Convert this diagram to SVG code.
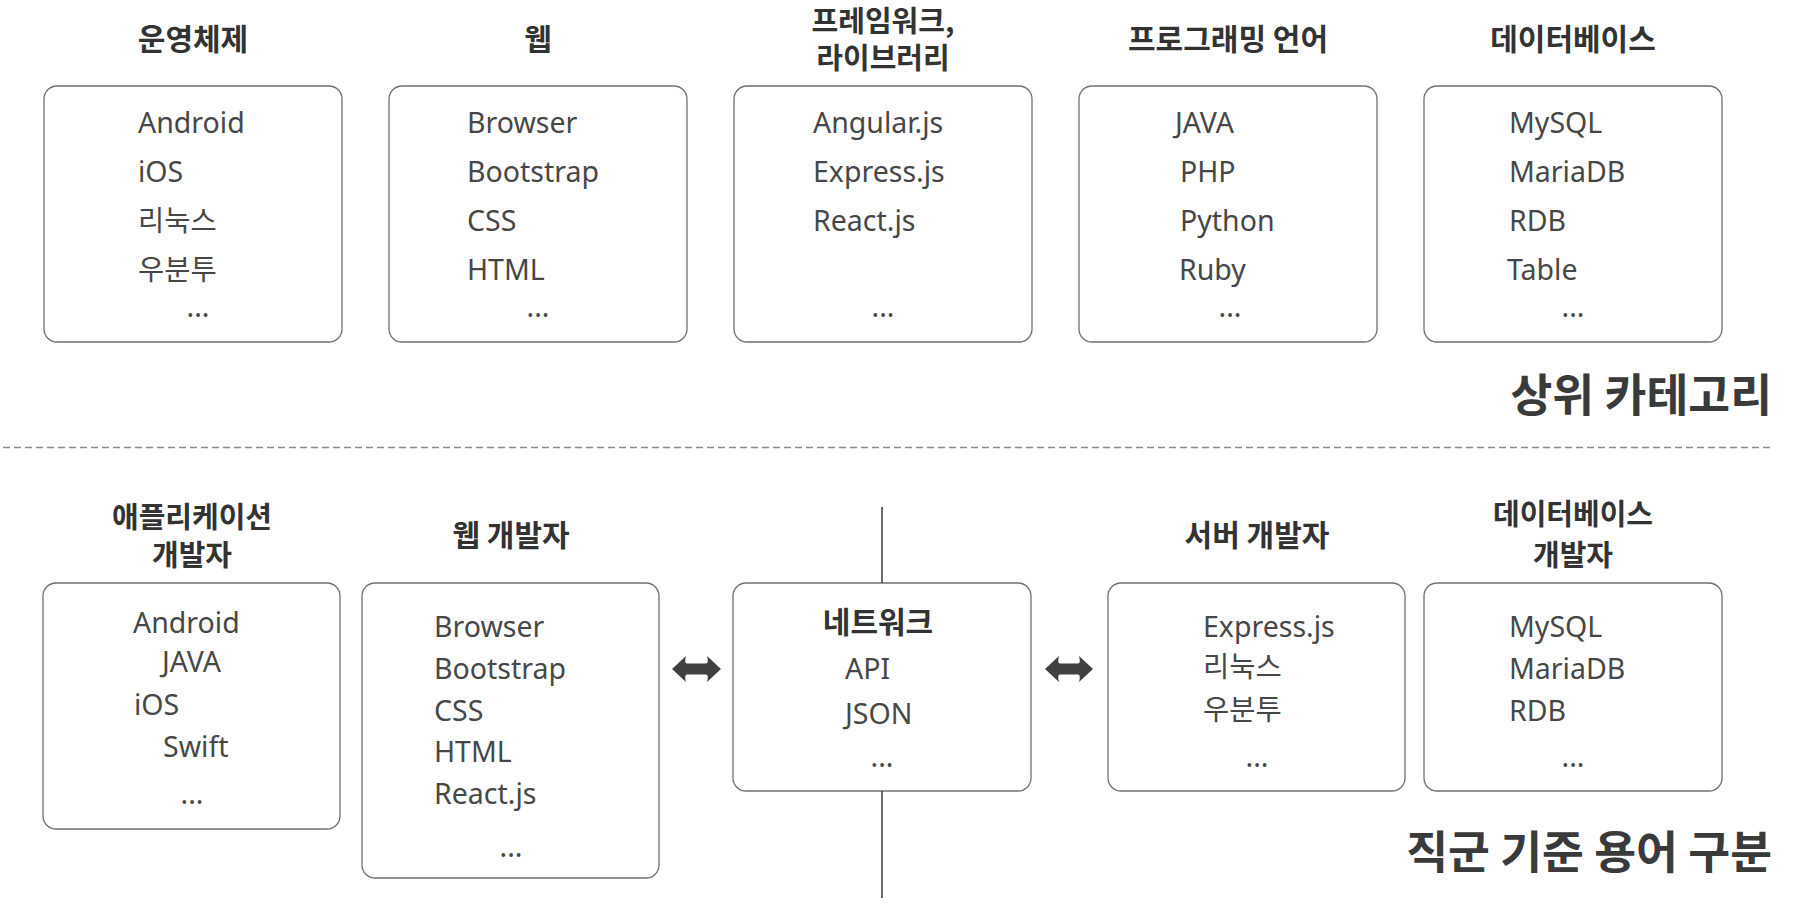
<svg xmlns="http://www.w3.org/2000/svg" width="1798" height="910" viewBox="0 0 1798 910">
<style>
.box{fill:#fff;stroke:#707070;stroke-width:1.3}
.ttl{font-family:"Noto Sans CJK KR","Noto Sans",sans-serif;font-weight:700;font-size:30px;fill:#333;text-anchor:middle}
.ttl2{font-family:"Noto Sans CJK KR","Noto Sans",sans-serif;font-weight:700;font-size:29px;fill:#333;text-anchor:middle}
.big{font-family:"Noto Sans CJK KR","Noto Sans",sans-serif;font-weight:700;font-size:45.5px;fill:#3a3a3a;text-anchor:end}
.it{font-family:"Noto Sans","Noto Sans CJK KR",sans-serif;font-weight:400;font-size:28.5px;fill:#474747}
.dots{font-family:"Noto Sans",sans-serif;font-weight:400;font-size:28.5px;fill:#474747;text-anchor:middle}
.sep{stroke:#8a8a8a;stroke-width:1.4;stroke-dasharray:7 4;fill:none}
.vline{stroke:#444;stroke-width:1.6;fill:none}
.arr{fill:#404040}
</style>
<rect width="1798" height="910" fill="#fff"/>

<g id="top-labels">
<text class="big" x="1772" y="412">상위 카테고리</text>
</g>

<g id="node-os">
<text class="ttl" x="193" y="50">운영체제</text>
<rect class="box" x="44" y="86" width="298" height="256" rx="13"/>
<text class="it" x="138" y="133">Android</text>
<text class="it" x="138" y="182">iOS</text>
<text class="it" x="138" y="231">리눅스</text>
<text class="it" x="138" y="280">우분투</text>
<text class="dots" x="198" y="317">...</text>
</g>

<g id="node-web">
<text class="ttl" x="538" y="50">웹</text>
<rect class="box" x="389" y="86" width="298" height="256" rx="13"/>
<text class="it" x="467" y="133">Browser</text>
<text class="it" x="467" y="182">Bootstrap</text>
<text class="it" x="467" y="231">CSS</text>
<text class="it" x="467" y="280">HTML</text>
<text class="dots" x="538" y="317">...</text>
</g>

<g id="node-framework">
<text class="ttl2" x="883" y="32">프레임워크,</text>
<text class="ttl2" x="883" y="69">라이브러리</text>
<rect class="box" x="734" y="86" width="298" height="256" rx="13"/>
<text class="it" x="813" y="133">Angular.js</text>
<text class="it" x="813" y="182">Express.js</text>
<text class="it" x="813" y="231">React.js</text>
<text class="dots" x="883" y="317">...</text>
</g>

<g id="node-lang">
<text class="ttl" x="1228" y="50">프로그래밍 언어</text>
<rect class="box" x="1079" y="86" width="298" height="256" rx="13"/>
<text class="it" x="1175" y="133">JAVA</text>
<text class="it" x="1180" y="182">PHP</text>
<text class="it" x="1180" y="231">Python</text>
<text class="it" x="1179" y="280">Ruby</text>
<text class="dots" x="1230" y="317">...</text>
</g>

<g id="node-db">
<text class="ttl" x="1573" y="50">데이터베이스</text>
<rect class="box" x="1424" y="86" width="298" height="256" rx="13"/>
<text class="it" x="1509" y="133">MySQL</text>
<text class="it" x="1509" y="182">MariaDB</text>
<text class="it" x="1509" y="231">RDB</text>
<text class="it" x="1507" y="280">Table</text>
<text class="dots" x="1573" y="317">...</text>
</g>

<g id="separator">
<line class="sep" x1="3" y1="447.5" x2="1774" y2="447.5"/>
</g>

<g id="bottom-labels">
<text class="big" x="1772" y="869">직군 기준 용어 구분</text>
</g>

<g id="node-app-dev">
<text class="ttl2" x="192" y="528">애플리케이션</text>
<text class="ttl2" x="192" y="566">개발자</text>
<rect class="box" x="43" y="583" width="297" height="246" rx="13"/>
<text class="it" x="133" y="633">Android</text>
<text class="it" x="162" y="672">JAVA</text>
<text class="it" x="134" y="715">iOS</text>
<text class="it" x="163" y="757">Swift</text>
<text class="dots" x="192" y="804">...</text>
</g>

<g id="node-web-dev">
<text class="ttl" x="511" y="546">웹 개발자</text>
<rect class="box" x="362" y="583" width="297" height="295" rx="13"/>
<text class="it" x="434" y="637">Browser</text>
<text class="it" x="434" y="679">Bootstrap</text>
<text class="it" x="434" y="721">CSS</text>
<text class="it" x="434" y="762">HTML</text>
<text class="it" x="434" y="804">React.js</text>
<text class="dots" x="511" y="857">...</text>
</g>

<g id="node-network">
<rect class="box" x="733" y="583" width="298" height="208" rx="13"/>
<text class="ttl" x="878" y="633">네트워크</text>
<text class="it" x="845" y="679">API</text>
<text class="it" x="845" y="724">JSON</text>
<text class="dots" x="882" y="767">...</text>
</g>

<g id="node-server-dev">
<text class="ttl" x="1257" y="546">서버 개발자</text>
<rect class="box" x="1108" y="583" width="297" height="208" rx="13"/>
<text class="it" x="1203" y="637">Express.js</text>
<text class="it" x="1203" y="677">리눅스</text>
<text class="it" x="1203" y="720">우분투</text>
<text class="dots" x="1257" y="767">...</text>
</g>

<g id="node-db-dev">
<text class="ttl2" x="1573" y="525">데이터베이스</text>
<text class="ttl2" x="1573" y="566">개발자</text>
<rect class="box" x="1424" y="583" width="298" height="208" rx="13"/>
<text class="it" x="1509" y="637">MySQL</text>
<text class="it" x="1509" y="679">MariaDB</text>
<text class="it" x="1509" y="721">RDB</text>
<text class="dots" x="1573" y="767">...</text>
</g>

<g id="connectors">
<line class="vline" x1="882" y1="507" x2="882" y2="583"/>
<line class="vline" x1="882" y1="791" x2="882" y2="898"/>
<path class="arr" d="M672,669 L686,656 Q684,663.5 687,663.5 L706,663.5 Q709,663.5 707,656 L721,669 L707,682 Q709,674.5 706,674.5 L687,674.5 Q684,674.5 686,682 Z"/>
<path class="arr" d="M1045,669 L1059,656 Q1057,663.5 1060,663.5 L1078,663.5 Q1081,663.5 1079,656 L1093,669 L1079,682 Q1081,674.5 1078,674.5 L1060,674.5 Q1057,674.5 1059,682 Z"/>
</g>
</svg>
